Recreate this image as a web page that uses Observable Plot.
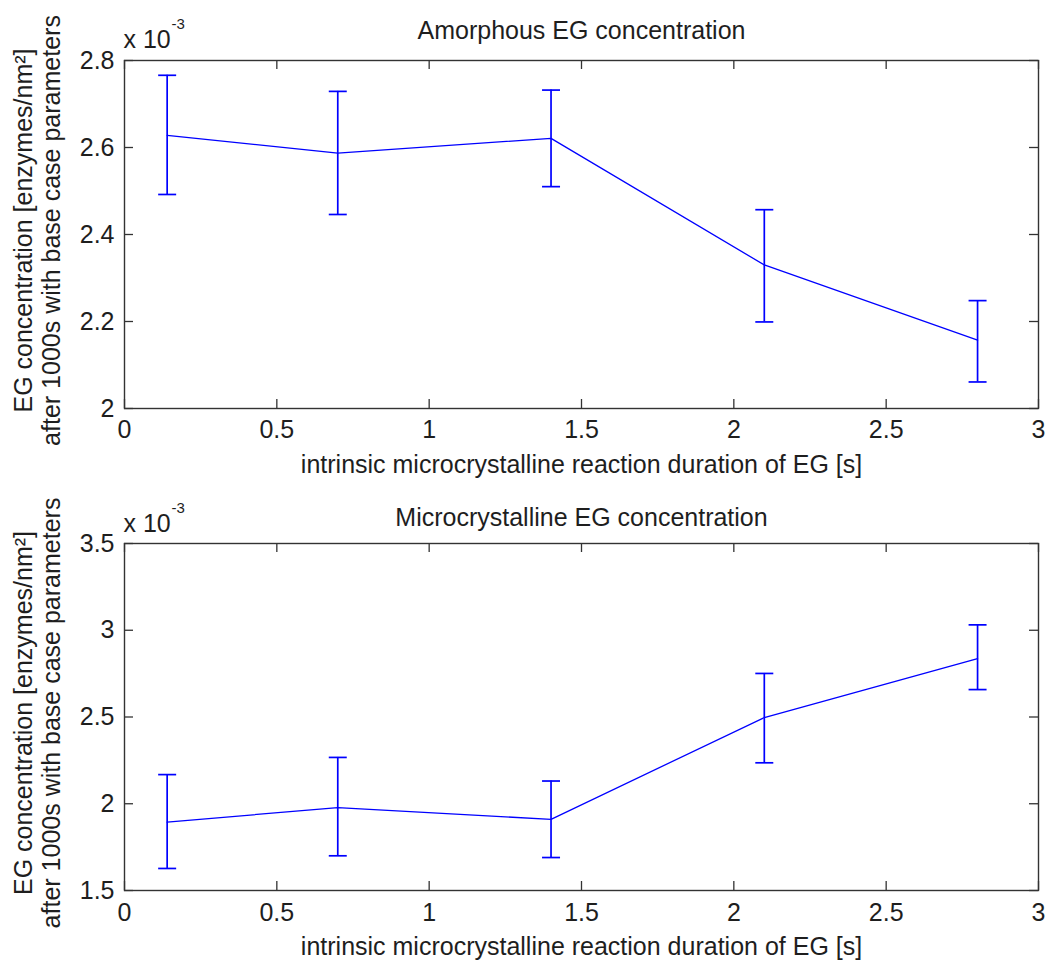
<!DOCTYPE html>
<html>
<head>
<meta charset="utf-8">
<script src="https://cdn.jsdelivr.net/npm/d3@7"></script>
<script src="https://cdn.jsdelivr.net/npm/@observablehq/plot@0.6"></script>
<style>
  html, body { margin: 0; padding: 0; background: #fff; }
  #chart { width: 1047px; height: 962px; }
  #chart svg { display: block; }
</style>
</head>
<body>
<div id="chart"></div>
<script>
// Intrinsic microcrystalline reaction duration of EG [s]
const durations = [0.14, 0.7, 1.4, 2.1, 2.8];

// EG concentrations after 1000 s, in units of 1e-3 enzymes/nm²
const amorphousMean = [2.628, 2.587, 2.621, 2.330, 2.157];
const amorphousLow  = [2.492, 2.446, 2.510, 2.199, 2.061];
const amorphousHigh = [2.766, 2.729, 2.732, 2.457, 2.248];

const microMean = [1.894, 1.978, 1.910, 2.497, 2.837];
const microLow  = [1.627, 1.700, 1.690, 2.236, 2.658];
const microHigh = [2.168, 2.267, 2.131, 2.751, 3.031];

const xTicks = [0, 0.5, 1, 1.5, 2, 2.5, 3];
const amorphousTicks = [2, 2.2, 2.4, 2.6, 2.8];
const microTicks = [1.5, 2, 2.5, 3, 3.5];

const xLabel = "intrinsic microcrystalline reaction duration of EG [s]";
const yLabel = "EG concentration [enzymes/nm²]\nafter 1000s with base case parameters";

const blue = "#0000ff";
const axisColor = "#333333";
const ink = "#1e1e1e";
const W = 1047, H = 481, ML = 124, MR = 9;

// horizontal error-bar cap, half-width = r
const cap = {
  draw(context, size) {
    const w = Math.sqrt(size / Math.PI);
    context.moveTo(-w, 0);
    context.lineTo(w, 0);
  }
};

const fmt = d => String(+d.toFixed(2));

function panel({title, mean, low, high, yTicks, mt, mb, titleDy, expDy, tickPad}) {
  const rows = durations.map((x, i) => ({x, m: mean[i], lo: low[i], hi: high[i]}));
  const innerH = H - mt - mb, innerW = W - ML - MR;
  return Plot.plot({
    width: W, height: H,
    marginTop: mt, marginBottom: mb, marginLeft: ML, marginRight: MR,
    style: {fontFamily: "'Liberation Sans', Arial, sans-serif", fontSize: "25px", color: ink, background: "white"},
    x: {domain: [0, 3]},
    y: {domain: [yTicks[0], yTicks[yTicks.length - 1]]},
    marks: [
      // inward ticks on all four sides
      Plot.ruleX(xTicks, {x: d => d, insetTop: innerH - 9, stroke: axisColor, strokeWidth: 1.3}),
      Plot.ruleX(xTicks, {x: d => d, insetBottom: innerH - 9, stroke: axisColor, strokeWidth: 1.3}),
      Plot.ruleY(yTicks, {y: d => d, insetRight: innerW - 9, stroke: axisColor, strokeWidth: 1.3}),
      Plot.ruleY(yTicks, {y: d => d, insetLeft: innerW - 9, stroke: axisColor, strokeWidth: 1.3}),
      Plot.frame({stroke: axisColor, strokeWidth: 1.4}),
      Plot.axisX(xTicks, {tickSize: 0, tickPadding: tickPad, tickFormat: fmt, label: null}),
      Plot.axisY(yTicks, {tickSize: 0, tickPadding: 10, tickFormat: fmt, label: null}),
      // mean line with error bars
      Plot.line(rows, {x: "x", y: "m", stroke: blue, strokeWidth: 1.3}),
      Plot.ruleX(rows, {x: "x", y1: "lo", y2: "hi", stroke: blue, strokeWidth: 1.7}),
      Plot.dot(rows, {x: "x", y: "hi", symbol: cap, r: 9, stroke: blue, fill: "none", strokeWidth: 1.7}),
      Plot.dot(rows, {x: "x", y: "lo", symbol: cap, r: 9, stroke: blue, fill: "none", strokeWidth: 1.7}),
      // title, exponent, axis labels
      Plot.text([title], {frameAnchor: "top", lineAnchor: "bottom", dy: titleDy, fill: ink}),
      Plot.text(["x 10"], {frameAnchor: "top-left", textAnchor: "start", lineAnchor: "bottom", dx: -1, dy: expDy, fill: ink}),
      Plot.text(["-3"], {frameAnchor: "top-left", textAnchor: "start", lineAnchor: "bottom", dx: 47, dy: expDy - 19, fontSize: 15, fill: ink}),
      Plot.text([xLabel], {frameAnchor: "bottom", lineAnchor: "bottom", dy: 64, fill: ink}),
      Plot.text([yLabel], {frameAnchor: "left", rotate: -90, textAnchor: "middle", lineAnchor: "top", lineHeight: 1.1, dx: -112, dy: -4, fill: ink})
    ]
  });
}

const chart = document.getElementById("chart");
chart.append(panel({
  title: "Amorphous EG concentration",
  mean: amorphousMean, low: amorphousLow, high: amorphousHigh,
  yTicks: amorphousTicks, mt: 60, mb: 73, titleDy: -22, expDy: -13, tickPad: 12
}));
chart.append(panel({
  title: "Microcrystalline EG concentration",
  mean: microMean, low: microLow, high: microHigh,
  yTicks: microTicks, mt: 62, mb: 72, titleDy: -18, expDy: -12, tickPad: 13
}));
</script>
</body>
</html>
